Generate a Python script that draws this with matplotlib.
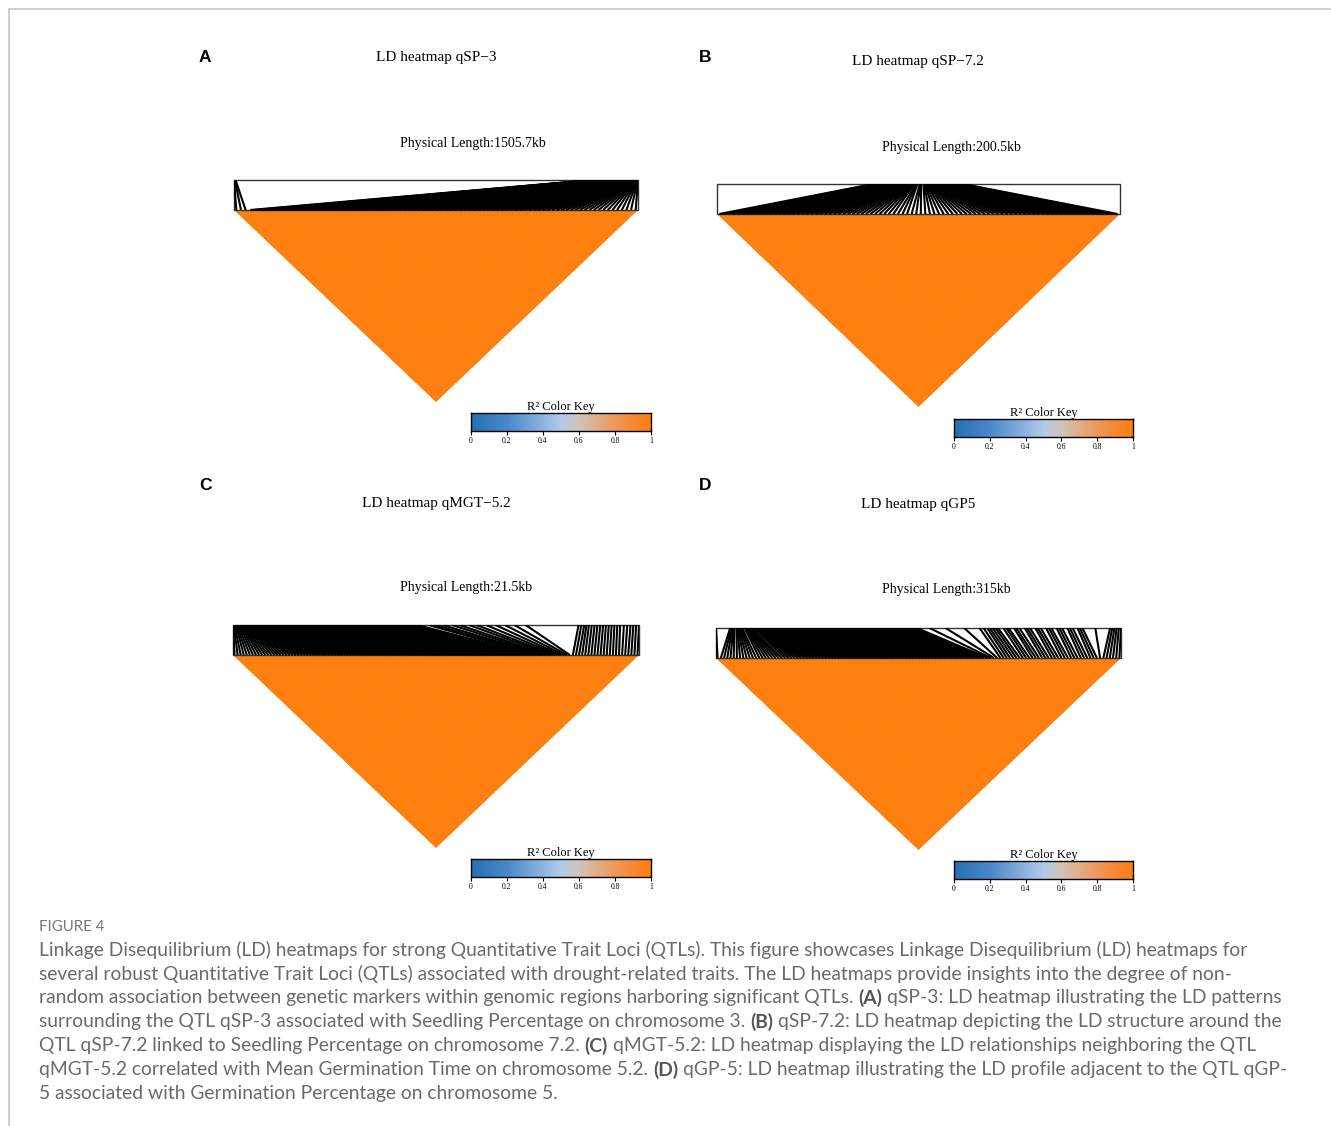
import numpy as np
import matplotlib
matplotlib.use("Agg")
import matplotlib.pyplot as plt
from matplotlib.collections import LineCollection
from matplotlib.colors import LinearSegmentedColormap
from matplotlib.patches import Rectangle, Polygon
from matplotlib.lines import Line2D

# ---------- Data ----------
panel_letters = ["A", "B", "C", "D"]
panel_titles = ["LD heatmap qSP\u22123", "LD heatmap qSP\u22127.2",
                "LD heatmap qMGT\u22125.2", "LD heatmap qGP5"]
region_length_kb = [1505.7, 200.5, 21.5, 315.0]
length_labels = ["1505.7kb", "200.5kb", "21.5kb", "315kb"]
# pairwise r^2 inside each block (whole triangle saturates)
block_r2 = [1.0, 1.0, 1.0, 1.0]

# SNP physical positions (kb from region start)
snp_a = [0.0, 3.2, 5.8,
         1334.0, 1336.8, 1338.1, 1341.5, 1343.2, 1345.9, 1347.4, 1350.2, 1352.8, 1354.1,
         1357.6, 1359.3, 1361.0, 1363.7, 1366.2, 1368.5, 1370.1, 1372.9, 1375.4, 1377.0,
         1379.8, 1382.3, 1384.1, 1386.6, 1389.0, 1391.4, 1393.2, 1395.9, 1398.3, 1400.7,
         1402.5, 1405.1, 1407.6, 1409.2, 1411.8, 1414.3, 1416.0, 1418.7, 1421.1, 1423.4,
         1425.2, 1427.9, 1430.3, 1432.6, 1434.1, 1436.8, 1439.2, 1441.5, 1443.0, 1445.6,
         1447.9, 1450.1, 1452.4, 1454.2, 1456.7, 1458.9, 1461.0, 1463.3, 1465.1, 1467.6,
         1469.4, 1471.2, 1473.5, 1475.3, 1477.0, 1479.2, 1481.1, 1482.8, 1484.6, 1486.3,
         1488.0, 1489.7, 1491.2, 1492.8, 1494.3, 1495.9, 1497.2, 1498.6, 1499.9, 1501.1,
         1502.3, 1503.4, 1504.6, 1505.7]

snp_b = [77.6, 78.3, 78.9, 79.4, 80.1, 80.6, 81.2, 81.9, 82.4, 83.0, 83.5, 84.1, 84.8,
         85.3, 85.9, 86.4, 87.0, 87.6, 88.1, 88.7, 89.2, 89.8, 90.3, 90.9, 91.4, 91.9,
         92.5, 93.0, 93.5, 94.1, 94.6, 95.0, 95.5, 96.0, 96.4, 96.9, 97.3, 97.8, 98.1,
         99.0, 99.4, 99.7, 100.9, 101.2, 101.6, 102.7, 103.0, 103.4, 103.8, 104.3, 104.7,
         105.1, 105.6, 106.0, 106.5, 106.9, 107.4, 107.8, 108.3, 108.8, 109.2, 109.7,
         110.2, 110.6, 111.1, 111.6, 112.0, 112.5, 113.0, 113.5, 113.9, 114.4, 114.9,
         115.4, 115.9, 116.3, 116.8, 117.3, 117.8, 118.3, 118.8, 119.3, 119.8, 120.3,
         120.8, 121.3, 121.9, 122.4]

snp_c = [0.00, 0.04, 0.08, 0.15, 0.21, 0.28, 0.34, 0.40, 0.47, 0.52, 0.59, 0.66, 0.72,
         0.79, 0.85, 0.91, 0.98, 1.05, 1.12, 1.18, 1.25, 1.31, 1.38, 1.44,
         1.50, 1.57, 1.63, 1.70, 1.76, 1.83, 1.89, 1.96, 2.02, 2.09,
         2.15, 2.22, 2.28, 2.35, 2.41, 2.48, 2.54, 2.61, 2.67, 2.74,
         2.80, 2.87, 2.93, 3.00, 3.06, 3.13, 3.20, 3.28, 3.42, 3.49, 3.55, 3.62,
         3.68, 3.75, 3.82, 3.90, 3.98, 4.05, 4.12, 4.18, 4.25, 4.31, 4.38, 4.44, 4.51,
         4.57, 4.64, 4.70, 4.77, 4.83, 4.90, 4.96, 5.03, 5.10, 5.20, 5.40, 5.52,
         5.64, 5.85, 6.06, 6.28, 6.50, 6.73, 6.96, 7.20, 7.45, 7.70,
         7.96, 8.23, 8.51, 8.80, 9.10, 9.42, 9.75,
         10.35, 10.7, 11.1, 11.6, 12.0, 12.5, 12.9, 13.4, 13.9, 14.4, 14.9, 15.5,
         18.3, 18.45, 18.6, 18.72, 18.85, 19.0, 19.15, 19.3, 19.45, 19.6, 19.75,
         19.9, 20.05, 20.2, 20.35, 20.5, 20.7, 20.88, 21.05, 21.2, 21.35, 21.5]

snp_d = [0.0,
         11.0, 11.9, 12.7, 13.4, 14.2, 15.9, 16.6, 17.4, 18.1, 18.9, 19.6, 20.4,
         22.3, 23.1, 23.9, 24.6, 25.4, 26.1, 26.9, 27.6,
         29.5, 30.2, 31.0, 31.8, 32.5, 33.3, 34.0, 34.8, 35.5, 36.3,
         38.4, 39.2, 40.0, 40.7, 41.5, 42.3, 43.0,
         44.9, 45.7, 46.5, 47.3, 48.0,
         49.9, 51.8, 53.6, 55.5, 57.4, 59.3, 61.2, 63.0,
         65.8, 68.5, 71.3, 74.0, 76.9, 79.5, 82.4, 85.0, 87.9, 90.6, 93.4, 96.1,
         99.0, 101.7, 104.5, 107.2, 110.1, 112.8, 115.6, 118.3, 121.2, 123.9, 126.7,
         129.4, 132.3, 135.0, 137.8, 140.5, 143.4, 146.1, 148.9, 151.6, 154.0, 156.2,
         166.0, 178.5, 193.0,
         205.0, 208.1, 211.0, 213.0, 215.2, 217.4, 219.3, 223.5, 225.8, 227.6, 231.8,
         233.5, 235.9, 240.1, 242.0, 244.2, 248.4, 250.3, 252.5, 256.7, 258.9, 260.8,
         265.0, 267.0, 269.1, 273.3, 275.2, 277.4, 281.2, 283.0, 285.0,
         295.0, 306.5, 308.2, 309.9, 311.6, 313.3, 315.0]

snp_positions = [snp_a, snp_b, snp_c, snp_d]

key_ticks = [0, 0.2, 0.4, 0.6, 0.8, 1]
key_labels = ["0", "0.2", "0.4", "0.6", "0.8", "1"]

caption_head = "FIGURE 4"
caption_lines = [
    "Linkage Disequilibrium (LD) heatmaps for strong Quantitative Trait Loci (QTLs). This figure showcases Linkage Disequilibrium (LD) heatmaps for",
    "several robust Quantitative Trait Loci (QTLs) associated with drought-related traits. The LD heatmaps provide insights into the degree of non-",
    "random association between genetic markers within genomic regions harboring significant QTLs. **(A)** qSP-3: LD heatmap illustrating the LD patterns",
    "surrounding the QTL qSP-3 associated with Seedling Percentage on chromosome 3. **(B)** qSP-7.2: LD heatmap depicting the LD structure around the",
    "QTL qSP-7.2 linked to Seedling Percentage on chromosome 7.2. **(C)** qMGT-5.2: LD heatmap displaying the LD relationships neighboring the QTL",
    "qMGT-5.2 correlated with Mean Germination Time on chromosome 5.2. **(D)** qGP-5: LD heatmap illustrating the LD profile adjacent to the QTL qGP-",
    "5 associated with Germination Percentage on chromosome 5.",
]

# ---------- Layout (pixels) ----------
W, H = 1331, 1126
SERIF = "Liberation Serif"
CAP_FONT = "Lato"

# (left, rect top, right, triangle apex)
panel_boxes = [(234, 180, 638, 402), (717, 184, 1120, 407),
               (233, 625, 639, 848), (716, 628, 1121, 850)]
RECT_PX = 30
letter_xy = [(205, 58), (705, 58), (205, 485), (705, 485)]
title_xy = [(436, 58), (918, 62), (436, 503), (918, 505)]
length_xy = [(400, 143), (882, 147), (400, 588), (882, 590)]
key_boxes = [(471, 413, 651, 431), (954, 419, 1133, 437),
             (471, 859, 651, 877), (954, 861, 1133, 879)]

LD_CMAP = LinearSegmentedColormap.from_list("ld", [
    (0.0, "#2470b6"), (0.2, "#4a88c9"), (0.4, "#8db4e2"), (0.5, "#b2cbe9"),
    (0.6, "#d1c4bb"), (0.7, "#e2ad88"), (0.8, "#ee985c"), (0.9, "#f88935"),
    (1.0, "#fd7f0e")])

fig = plt.figure(figsize=(W / 100, H / 100), dpi=100)


def px_axes(x0, y0, x1, y1):
    return fig.add_axes([x0 / W, 1 - y1 / H, (x1 - x0) / W, (y1 - y0) / H])


def ftext(x, y, s, **kw):
    kw.setdefault("va", "center")
    return fig.text(x / W, 1 - y / H, s, **kw)


def ld_panel(box, pos, length, r2):
    x0, ytop, x1, yapex = box
    ax = px_axes(x0, ytop, x1, yapex)
    h = RECT_PX / (yapex - ytop - RECT_PX)
    ax.set_xlim(0, 1)
    ax.set_ylim(-1, h)
    ax.axis("off")

    n = len(pos)
    # rotated upper triangle of the r^2 matrix
    g = np.arange(n + 1)
    ga, gb = np.meshgrid(g, g, indexing="ij")
    X = (ga + gb) / (2 * n)
    Y = -(gb - ga) / n
    C = np.ma.masked_all((n, n))
    C[np.triu_indices(n, 0)] = r2
    mesh = ax.pcolormesh(X, Y, C, cmap=LD_CMAP, vmin=0, vmax=1, shading="flat",
                         edgecolors="face", linewidth=0.5, antialiased=True,
                         snap=False)
    tri = Polygon([(0, 0), (1, 0), (0.5, -1)], closed=True, transform=ax.transData)
    mesh.set_clip_path(tri)

    # map each SNP's physical position onto its matrix column
    tops = np.asarray(pos) / length
    bots = (np.arange(n) + 0.5) / n
    segs = [[(t, h), (b, 0)] for t, b in zip(tops, bots)]
    ax.add_collection(LineCollection(segs, colors="black", linewidths=1.5))
    ax.add_patch(Rectangle((0, 0), 1, h, fill=False, edgecolor="#333333",
                           lw=1.0, clip_on=False))


def color_key(box):
    ax = px_axes(*box)
    grad = np.linspace(0, 1, 256)[None, :]
    ax.imshow(grad, cmap=LD_CMAP, aspect="auto", extent=(0, 1, 0, 1))
    ax.set_xlim(0, 1)
    ax.set_ylim(0, 1)
    ax.set_yticks([])
    ax.set_xticks(key_ticks)
    ax.set_xticklabels(key_labels, fontsize=5.5, family=SERIF)
    ax.tick_params(axis="x", length=3, width=0.8, pad=1)
    for s in ax.spines.values():
        s.set_linewidth(1.0)
    ax.set_title("R\u00b2 Color Key", fontsize=9, family=SERIF, pad=2)


for i in range(4):
    ld_panel(panel_boxes[i], snp_positions[i], region_length_kb[i], block_r2[i])
    color_key(key_boxes[i])
    ftext(*letter_xy[i], panel_letters[i], ha="center", fontsize=12.5,
          weight="bold", family="Liberation Sans")
    ftext(*title_xy[i], panel_titles[i], ha="center", fontsize=11, family=SERIF)
    ftext(*length_xy[i], "Physical Length:" + length_labels[i], ha="left",
          fontsize=10, family=SERIF)

# page frame
fig.add_artist(Line2D([9 / W, 1330 / W], [1 - 9 / H, 1 - 9 / H],
                      color="#c8c8c8", lw=1.2))
fig.add_artist(Line2D([9 / W, 9 / W], [1 - 9 / H, 0], color="#c8c8c8", lw=1.2))

# ---------- Caption ----------
CAP_SIZE = 13.9
CAP_COLOR = "#6a6a6a"
renderer = fig.canvas.get_renderer()
t1 = fig.text(0, 0, "a a", fontsize=CAP_SIZE, family=CAP_FONT)
t2 = fig.text(0, 0, "aa", fontsize=CAP_SIZE, family=CAP_FONT)
space_w = t1.get_window_extent(renderer).width - t2.get_window_extent(renderer).width
t1.remove()
t2.remove()

ftext(39, 927, caption_head, ha="left", fontsize=10.8, family=CAP_FONT,
      color="#777777")
for k, line in enumerate(caption_lines):
    y = 950 + 24 * k
    x = 39
    pieces = line.split("**")
    first = True
    for j, piece in enumerate(pieces):
        piece = piece.strip()
        if not piece:
            continue
        if not first:
            x += space_w
        bold = j % 2 == 1
        t = ftext(x, y, piece, ha="left", fontsize=CAP_SIZE, family=CAP_FONT,
                  color="#555555" if bold else CAP_COLOR,
                  weight="bold" if bold else "normal")
        x += t.get_window_extent(renderer).width
        first = False

fig.savefig("out.png", dpi=100, facecolor="white")
